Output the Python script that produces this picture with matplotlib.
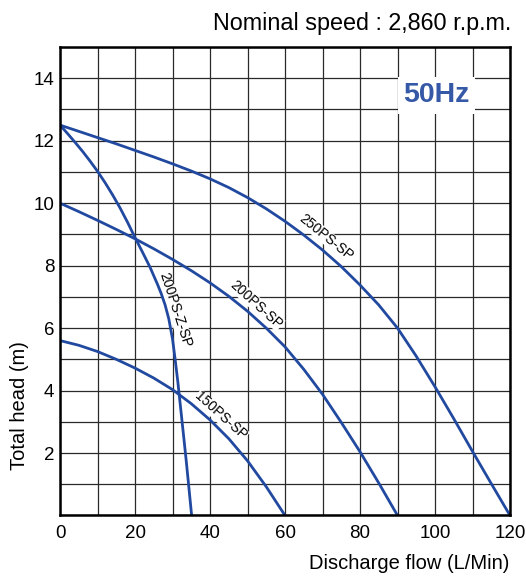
import matplotlib.pyplot as plt
from matplotlib.ticker import MultipleLocator

plt.rcParams['font.family'] = ['Liberation Sans', 'DejaVu Sans']

# Pump performance curves (flow L/min, head m)
q_250 = [0, 5, 10, 15, 20, 25, 30, 35, 40, 45, 50, 55, 60, 65, 70, 75, 80, 85, 90, 95, 100, 105, 110, 115, 120]
h_250 = [12.5, 12.3, 12.1, 11.9, 11.69, 11.48, 11.26, 11.03, 10.78, 10.5, 10.18, 9.82, 9.42, 8.98, 8.5,
         7.97, 7.38, 6.74, 6.0, 5.1, 4.12, 3.1, 2.05, 1.02, 0]

q_200 = [0, 5, 10, 15, 20, 25, 30, 35, 40, 45, 50, 55, 60, 65, 70, 75, 80, 85, 90]
h_200 = [10, 9.73, 9.45, 9.16, 8.86, 8.54, 8.2, 7.84, 7.45, 7.02, 6.54, 6.0, 5.4, 4.68, 3.88, 2.98, 2.04, 1.04, 0]

q_200z = [0, 2, 4, 6, 8, 10, 12, 14, 16, 18, 20, 22, 24, 26, 27, 28, 29, 30, 30.7, 31.4, 32.2, 33,
          33.7, 34.4, 35.1]
h_200z = [12.5, 12.23, 11.95, 11.66, 11.35, 11.02, 10.66, 10.27, 9.85, 9.39, 8.9, 8.43, 7.95, 7.4,
          7.1, 6.75, 6.3, 5.65, 5.0, 4.3, 3.4, 2.5, 1.7, 0.85, 0]

q_150 = [0, 5, 10, 15, 20, 25, 30, 35, 40, 45, 50, 55, 60]
h_150 = [5.6, 5.45, 5.25, 5.0, 4.72, 4.4, 4.03, 3.58, 3.06, 2.46, 1.75, 0.92, 0]

x_ticks = [0, 20, 40, 60, 80, 100, 120]
y_ticks = [2, 4, 6, 8, 10, 12, 14]

line_color = '#2149a0'

fig = plt.figure(figsize=(5.26, 5.79), dpi=100)
ax = fig.add_axes([0.1141, 0.1097, 0.8555, 0.8091])

for q, h in [(q_250, h_250), (q_200, h_200), (q_200z, h_200z), (q_150, h_150)]:
    ax.plot(q, h, color=line_color, lw=2.0, zorder=3, solid_joinstyle='round')

ax.set_xlim(0, 120)
ax.set_ylim(0, 15)
ax.set_xticks(x_ticks)
ax.set_yticks(y_ticks)
ax.xaxis.set_minor_locator(MultipleLocator(10))
ax.yaxis.set_minor_locator(MultipleLocator(1))
ax.grid(which='both', color='#2a2a2a', lw=0.9, zorder=1)
ax.tick_params(which='both', length=0, labelsize=13.5)
ax.tick_params(axis='y', pad=4)
ax.tick_params(axis='x', pad=7)
for s in ax.spines.values():
    s.set_linewidth(1.8)
    s.set_zorder(4)

# curve labels (white halo sits under the curves)
lab = dict(fontsize=10, ha='center', va='center', zorder=2.5,
           bbox=dict(facecolor='white', edgecolor='none', pad=0.2))
ax.text(70.9, 8.92, '250PS-SP', rotation=-39, **lab)
ax.text(52.4, 6.76, '200PS-SP', rotation=-42, **lab)
ax.text(30.7, 6.58, '200PS-Z-SP', rotation=-72, **lab)
ax.text(42.9, 3.18, '150PS-SP', rotation=-42, **lab)

ax.text(100.4, 13.45, '50Hz', fontsize=20.5, fontweight='bold', color='#3559a6',
        ha='center', va='center', zorder=5,
        bbox=dict(facecolor='white', edgecolor='none', boxstyle='square,pad=0.2'))

fig.text(0.9728, 0.949, 'Nominal speed : 2,860 r.p.m.', ha='right', va='baseline', fontsize=16.8)
fig.text(0.9677, 0.0168, 'Discharge flow (L/Min)', ha='right', va='baseline', fontsize=14.5)
fig.text(0.037, 0.299, 'Total head (m)', rotation=90, ha='center', va='center', fontsize=14.5)

plt.savefig('out.png', dpi=100)
